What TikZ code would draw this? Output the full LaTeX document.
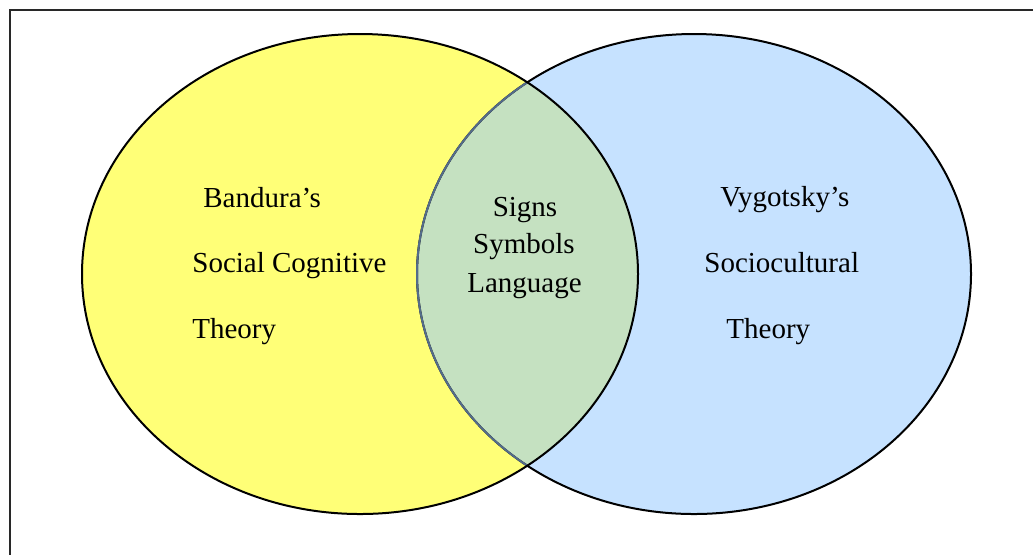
\documentclass[tikz,border=0pt]{standalone}
\usepackage{fontspec}
\setmainfont{Liberation Serif}
\usepackage{xcolor}
\definecolor{yel}{RGB}{255,255,119}
\definecolor{sky}{RGB}{151,202,255}
\definecolor{rim}{RGB}{84,108,138}
\definecolor{frm}{RGB}{40,40,40}
\usepackage{tikz}
\usetikzlibrary{positioning}

\tikzset{
  lbl/.style={inner sep=0pt, font=\fontsize{14.5}{17}\selectfont},
}

\begin{document}
\begin{tikzpicture}[x=0.5pt,y=-0.5pt]
    \clip (0,0) rectangle (1033,554);
    \draw [frm, line width=1pt] (10,10) rectangle (1060,600);

    \fill [yel] (360,274) ellipse [x radius=278, y radius=240];
    \fill [sky, fill opacity=0.55] (694,274) ellipse [x radius=277, y radius=240];

    \draw [line width=1pt] (694,274) ellipse [x radius=277, y radius=240];
    \begin{scope}
      \clip (360,274) ellipse [x radius=278, y radius=240];
      \draw [rim, line width=1pt] (694,274) ellipse [x radius=277, y radius=240];
    \end{scope}
    \draw [line width=1pt] (360,274) ellipse [x radius=278, y radius=240];

    \node [lbl, anchor=base west] (band) at (203,207) {Bandura’s};
    \node [lbl, anchor=base west] (socog) at (192,272) {Social Cognitive};
    \node [lbl, anchor=base west] (theoL) at (192,338) {Theory};

    \node [lbl, anchor=base] (signs) at (525,216) {Signs};
    \node [lbl, anchor=base] (symb) at (524,253) {Symbols};
    \node [lbl, anchor=base] (lang) at (524.5,292) {Language};

    \node [lbl, anchor=base west] (vyg) at (720,206) {Vygotsky’s};
    \node [lbl, anchor=base west] (socult) at (704,272) {Sociocultural};
    \node [lbl, anchor=base west] (theoR) at (726,338) {Theory};
  \end{tikzpicture}
\end{document}
